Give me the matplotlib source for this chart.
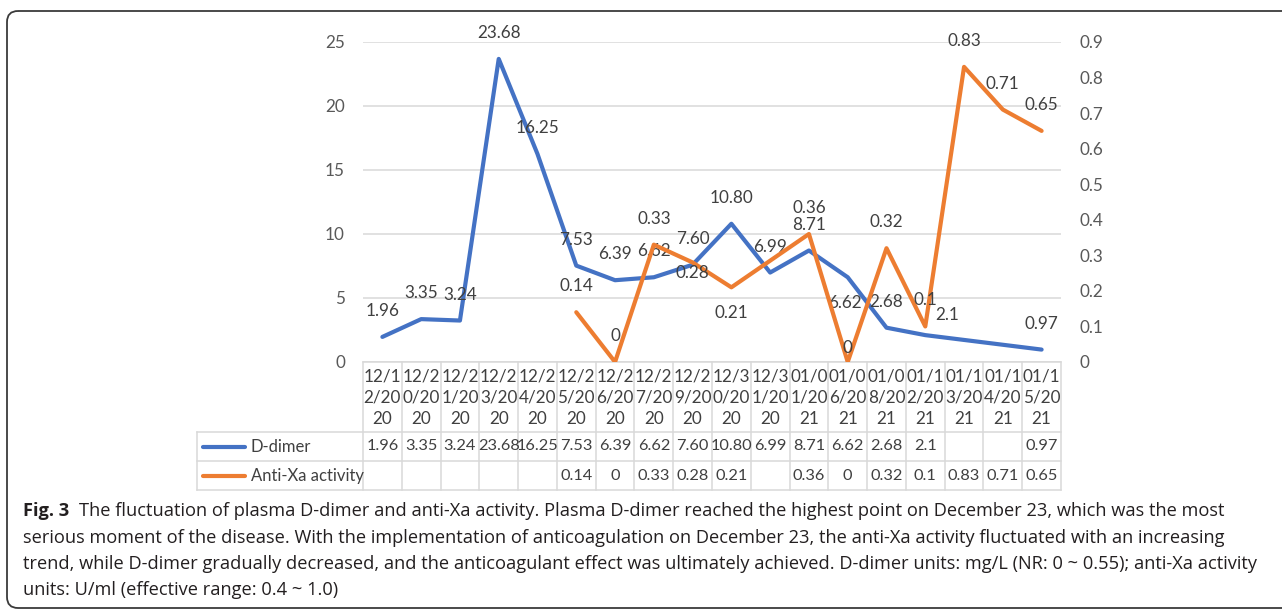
import textwrap
import numpy as np
import matplotlib
matplotlib.use('Agg')
import matplotlib.pyplot as plt
from matplotlib.patches import FancyBboxPatch

plt.rcParams['font.family'] = ['Lato', 'DejaVu Sans']

# sampling dates and measured values (as entered in the sheet)
dates = ['12/12/2020', '12/20/2020', '12/21/2020', '12/23/2020', '12/24/2020',
         '12/25/2020', '12/26/2020', '12/27/2020', '12/29/2020', '12/30/2020',
         '12/31/2020', '01/01/2021', '01/06/2021', '01/08/2021', '01/12/2021',
         '01/13/2021', '01/14/2021', '01/15/2021']
ddimer_txt = ['1.96', '3.35', '3.24', '23.68', '16.25', '7.53', '6.39', '6.62',
              '7.60', '10.80', '6.99', '8.71', '6.62', '2.68', '2.1', '', '', '0.97']
antixa_txt = ['', '', '', '', '', '0.14', '0', '0.33', '0.28', '0.21', '',
              '0.36', '0', '0.32', '0.1', '0.83', '0.71', '0.65']
series_names = ['D-dimer', 'Anti-Xa activity']
left_ticks = [0, 5, 10, 15, 20, 25]
right_ticks = [0, 0.1, 0.2, 0.3, 0.4, 0.5, 0.6, 0.7, 0.8, 0.9]

caption_bold = 'Fig. 3'
caption_lines = [
    'The fluctuation of plasma D-dimer and anti-Xa activity. Plasma D-dimer reached the highest point on December 23, which was the most',
    'serious moment of the disease. With the implementation of anticoagulation on December 23, the anti-Xa activity fluctuated with an increasing',
    'trend, while D-dimer gradually decreased, and the anticoagulant effect was ultimately achieved. D-dimer units: mg/L (NR: 0 ~ 0.55); anti-Xa activity',
    'units: U/ml (effective range: 0.4 ~ 1.0)',
]

BLUE = '#4472C4'
ORANGE = '#ED7D31'
GRID = '#D9D9D9'
TXT = '#595959'
TAB = '#404040'
CAP = '#231F20'

W, H = 1282, 611
fig = plt.figure(figsize=(W / 100, H / 100), dpi=100)

# pixel-space layer for the frame, data table and caption
pix = fig.add_axes([0, 0, 1, 1])
pix.set_xlim(0, W)
pix.set_ylim(H, 0)
pix.axis('off')

x0, x1 = 363, 1061          # plot area left/right
ytop, ybot = 42, 362        # plot area top/bottom
ax = fig.add_axes([x0 / W, 1 - ybot / H, (x1 - x0) / W, (ybot - ytop) / H])
ax.patch.set_alpha(0)


def to_num(lst):
    return np.array([float(s) if s else np.nan for s in lst])


ddimer = to_num(ddimer_txt)
antixa = to_num(antixa_txt)
idx = np.arange(len(dates))

ax.set_xlim(-0.5, len(dates) - 0.5)
ax.set_ylim(0, 25)
ax.set_yticks(left_ticks)
ax.set_yticklabels([str(t) for t in left_ticks])
ax.set_xticks([])
ax.grid(axis='y', color=GRID, lw=1.1)
ax.set_axisbelow(True)
for s in ax.spines.values():
    s.set_visible(False)
ax.tick_params(axis='y', length=0, pad=13, labelsize=12.3, labelcolor=TXT)

ax2 = ax.twinx()
ax2.set_ylim(0, 0.9)
ax2.set_yticks(right_ticks)
ax2.set_yticklabels([f'{t:g}' for t in right_ticks])
for s in ax2.spines.values():
    s.set_visible(False)
ax2.tick_params(axis='y', length=0, pad=13, labelsize=12.3, labelcolor=TXT)

# gaps in the sheet are bridged, as in the spreadsheet chart
m1 = ~np.isnan(ddimer)
m2 = ~np.isnan(antixa)
ax.plot(idx[m1], ddimer[m1], color=BLUE, lw=3, solid_joinstyle='round',
        solid_capstyle='round')
ax2.plot(idx[m2], antixa[m2], color=ORANGE, lw=3, solid_joinstyle='round',
         solid_capstyle='round')

# label offsets in pixels (dx, dy); default sits just above the point
d_off = {12: (-3, -26), 14: (22, 20)}
a_off = {8: (0, -11), 9: (0, -26), 12: (0, 14)}
for i in idx[m1]:
    dx, dy = d_off.get(i, (0, 26))
    ax.annotate(ddimer_txt[i], (i, ddimer[i]), xytext=(dx, dy),
                textcoords='offset pixels', ha='center', va='center',
                fontsize=12.3, color=TAB)
for i in idx[m2]:
    dx, dy = a_off.get(i, (0, 26))
    ax2.annotate(antixa_txt[i], (i, antixa[i]), xytext=(dx, dy),
                 textcoords='offset pixels', ha='center', va='center',
                 fontsize=12.3, color=TAB)

# data table under the plot
cw = (x1 - x0) / len(dates)
leg_x = 197
r0, r1, r2, r3 = ybot, 432, 461, 490
tab_lw = 1.1
pix.plot([x0, x1], [r0, r0], color=GRID, lw=tab_lw)
for yy in (r1, r2, r3):
    pix.plot([leg_x, x1], [yy, yy], color=GRID, lw=tab_lw)
pix.plot([leg_x, leg_x], [r1, r3], color=GRID, lw=tab_lw)
for i in range(len(dates) + 1):
    xx = x0 + i * cw
    pix.plot([xx, xx], [r0, r3], color=GRID, lw=tab_lw)

for i, d in enumerate(dates):
    cx = x0 + (i + 0.5) * cw
    for k, part in enumerate(textwrap.wrap(d, 4)):
        pix.text(cx, 376 + k * 21.5, part, ha='center', va='center',
                 fontsize=12.3, color=TAB)
    pix.text(cx, (r1 + r2) / 2, ddimer_txt[i], ha='center', va='center',
             fontsize=11.8, color=TAB)
    pix.text(cx, (r2 + r3) / 2, antixa_txt[i], ha='center', va='center',
             fontsize=11.8, color=TAB)

for name, col, (ya, yb) in zip(series_names, [BLUE, ORANGE], [(r1, r2), (r2, r3)]):
    yc = (ya + yb) / 2
    pix.plot([203, 245], [yc, yc], color=col, lw=3, solid_capstyle='round')
    pix.text(251, yc, name, ha='left', va='center', fontsize=12, color=TAB)

# rounded frame around the figure
frame = FancyBboxPatch((7, 11), 1300, 597, boxstyle='round,pad=0,rounding_size=11',
                       fc='none', ec='#3a3a3a', lw=1.3)
pix.add_patch(frame)

# caption
fig.canvas.draw()
rend = fig.canvas.get_renderer()
cap_font = ['Open Sans', 'DejaVu Sans']
cap_size = 13.15
bold = pix.text(23, 516.5, caption_bold, ha='left', va='baseline', family=cap_font,
                fontsize=cap_size, fontweight='bold', color=CAP)
bb = bold.get_window_extent(renderer=rend)
gap = 10
pix.text(23 + bb.width + gap, 516.5, caption_lines[0], ha='left', va='baseline',
         family=cap_font, fontsize=cap_size, color=CAP)
for k, line in enumerate(caption_lines[1:], start=1):
    pix.text(23, 516.5 + k * 26.2, line, ha='left', va='baseline',
             family=cap_font, fontsize=cap_size, color=CAP)

fig.savefig('out.png', dpi=100)
